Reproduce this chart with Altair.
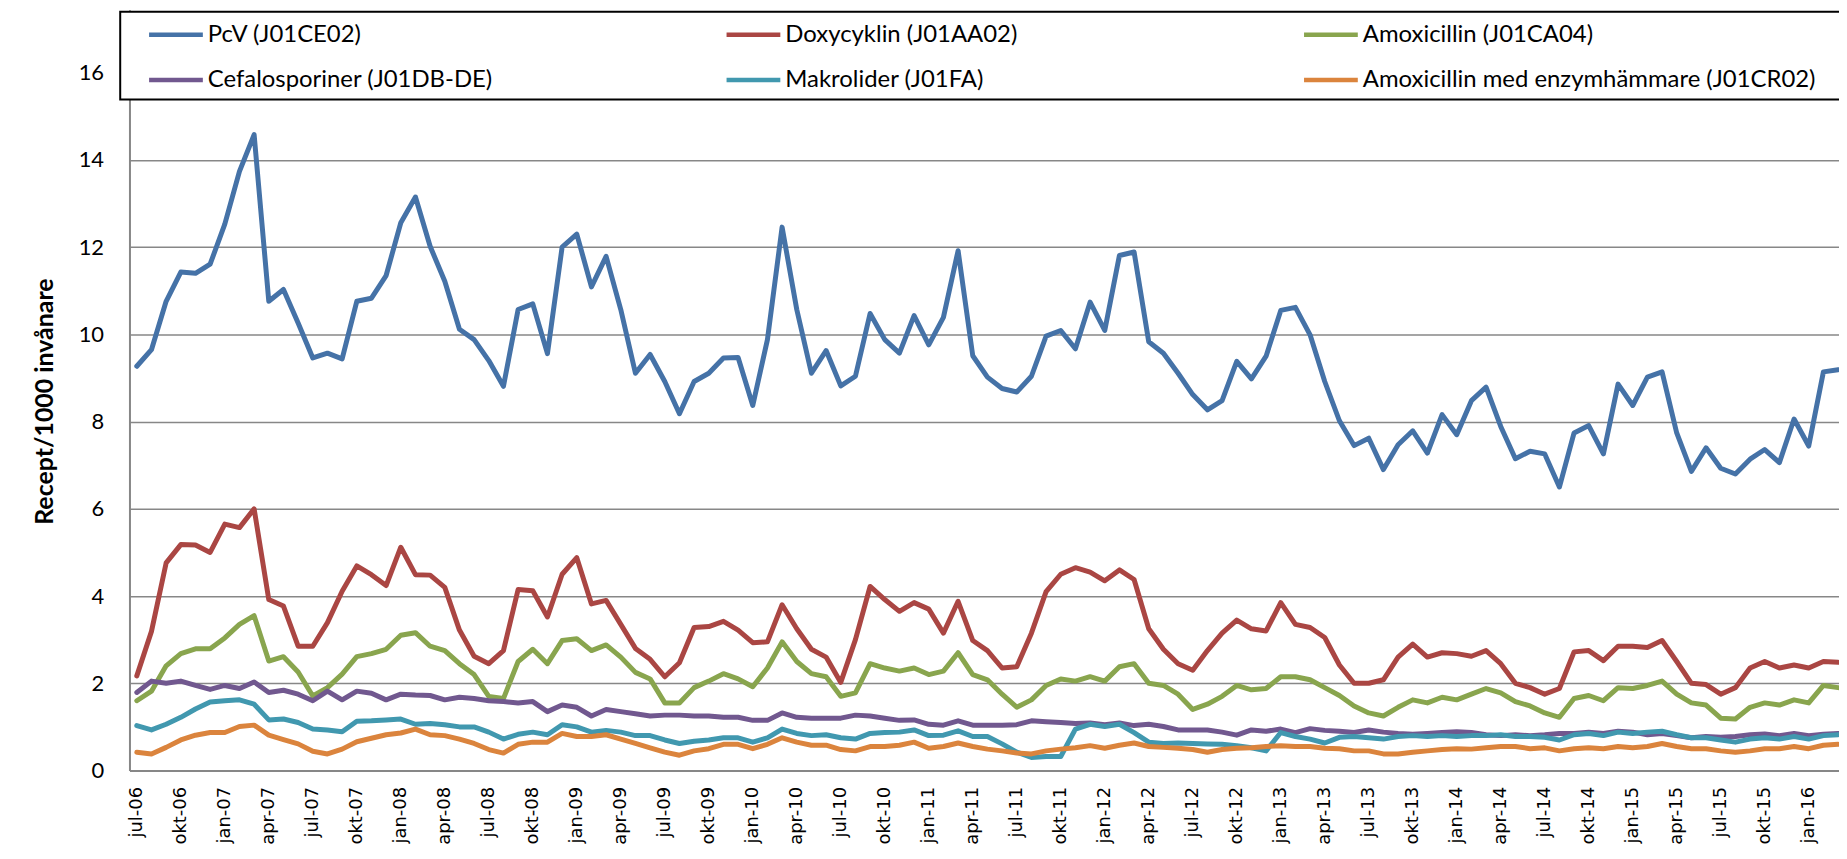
import altair as alt
import pandas as pd

series_names = ["PcV (J01CE02)", "Doxycyklin (J01AA02)", "Amoxicillin (J01CA04)",
                "Cefalosporiner (J01DB-DE)", "Makrolider (J01FA)",
                "Amoxicillin med enzymhämmare (J01CR02)"]
series_colors = ["#4572A7", "#AA4643", "#89A54E", "#71588F", "#4198AF", "#DB843D"]

tick_labels = ["jul-06", "okt-06", "jan-07", "apr-07", "jul-07", "okt-07", "jan-08", "apr-08",
               "jul-08", "okt-08", "jan-09", "apr-09", "jul-09", "okt-09", "jan-10", "apr-10",
               "jul-10", "okt-10", "jan-11", "apr-11", "jul-11", "okt-11", "jan-12", "apr-12",
               "jul-12", "okt-12", "jan-13", "apr-13", "jul-13", "okt-13", "jan-14", "apr-14",
               "jul-14", "okt-14", "jan-15", "apr-15", "jul-15", "okt-15", "jan-16"]

pcv = [9.27, 9.65, 10.76, 11.43, 11.40, 11.61, 12.53, 13.74, 14.58, 10.76,
       11.03, 10.26, 9.46, 9.57, 9.44, 10.76, 10.83, 11.35, 12.56, 13.15,
       12.02, 11.22, 10.12, 9.88, 9.40, 8.81, 10.57, 10.70, 9.56, 12.00,
       12.30, 11.09, 11.79, 10.57, 9.11, 9.54, 8.92, 8.18, 8.92, 9.11,
       9.46, 9.47, 8.37, 9.88, 12.46, 10.57, 9.11, 9.63, 8.82, 9.04,
       10.48, 9.88, 9.57, 10.43, 9.76, 10.39, 11.92, 9.51, 9.02, 8.76,
       8.68, 9.04, 9.96, 10.09, 9.67, 10.74, 10.09, 11.81, 11.89, 9.83,
       9.57, 9.11, 8.62, 8.27, 8.48, 9.38, 8.98, 9.50, 10.55, 10.62,
       9.99, 8.92, 8.02, 7.45, 7.62, 6.90, 7.47, 7.79, 7.28, 8.16,
       7.70, 8.48, 8.79, 7.89, 7.15, 7.32, 7.26, 6.50, 7.74, 7.91,
       7.26, 8.86, 8.37, 9.02, 9.14, 7.74, 6.86, 7.40, 6.93, 6.80,
       7.14, 7.36, 7.06, 8.06, 7.44, 9.14, 9.19]

doxy = [2.17, 3.19, 4.76, 5.18, 5.17, 5.00, 5.65, 5.57, 6.00, 3.92,
        3.77, 2.85, 2.85, 3.39, 4.11, 4.69, 4.49, 4.24, 5.12, 4.49,
        4.48, 4.20, 3.22, 2.62, 2.45, 2.75, 4.15, 4.12, 3.52, 4.50,
        4.88, 3.82, 3.90, 3.35, 2.80, 2.55, 2.15, 2.47, 3.28, 3.30,
        3.42, 3.22, 2.93, 2.95, 3.80, 3.25, 2.78, 2.60, 2.02, 3.00,
        4.22, 3.92, 3.65, 3.85, 3.70, 3.15, 3.88, 2.98, 2.75, 2.35,
        2.38, 3.15, 4.10, 4.50, 4.65, 4.55, 4.35, 4.60, 4.38, 3.25,
        2.78, 2.45, 2.30, 2.75, 3.15, 3.45, 3.25, 3.20, 3.85, 3.35,
        3.28, 3.05, 2.42, 2.00, 2.00, 2.08, 2.60, 2.90, 2.60, 2.70,
        2.68, 2.62, 2.75, 2.45, 2.00, 1.90, 1.75, 1.88, 2.72, 2.75,
        2.52, 2.85, 2.85, 2.82, 2.98, 2.50, 2.00, 1.97, 1.75, 1.90,
        2.35, 2.50, 2.35, 2.42, 2.35, 2.50, 2.48]

amox = [1.60, 1.82, 2.40, 2.68, 2.79, 2.79, 3.04, 3.35, 3.55, 2.51,
        2.61, 2.26, 1.71, 1.90, 2.21, 2.61, 2.68, 2.78, 3.10, 3.16,
        2.85, 2.75, 2.45, 2.20, 1.70, 1.65, 2.50, 2.78, 2.45, 2.98,
        3.02, 2.75, 2.88, 2.60, 2.25, 2.10, 1.55, 1.55, 1.90, 2.05,
        2.22, 2.10, 1.92, 2.35, 2.95, 2.50, 2.22, 2.15, 1.70, 1.78,
        2.45, 2.35, 2.28, 2.35, 2.20, 2.28, 2.70, 2.20, 2.08, 1.75,
        1.45, 1.62, 1.95, 2.10, 2.05, 2.15, 2.05, 2.38, 2.45, 2.00,
        1.95, 1.75, 1.40, 1.52, 1.70, 1.95, 1.85, 1.88, 2.15, 2.15,
        2.08, 1.90, 1.72, 1.48, 1.32, 1.25, 1.45, 1.62, 1.55, 1.68,
        1.62, 1.75, 1.88, 1.78, 1.58, 1.48, 1.32, 1.22, 1.65, 1.72,
        1.60, 1.90, 1.88, 1.95, 2.05, 1.75, 1.55, 1.50, 1.20, 1.18,
        1.45, 1.55, 1.50, 1.62, 1.55, 1.95, 1.90]

cefa = [1.79, 2.05, 2.00, 2.05, 1.95, 1.86, 1.95, 1.88, 2.03, 1.79,
        1.84, 1.75, 1.60, 1.82, 1.62, 1.82, 1.77, 1.62, 1.75, 1.73,
        1.72, 1.62, 1.68, 1.65, 1.60, 1.58, 1.55, 1.58, 1.35, 1.50,
        1.45, 1.25, 1.40, 1.35, 1.30, 1.25, 1.27, 1.27, 1.25, 1.25,
        1.22, 1.22, 1.15, 1.15, 1.32, 1.22, 1.20, 1.20, 1.20, 1.27,
        1.25, 1.20, 1.15, 1.16, 1.06, 1.04, 1.14, 1.04, 1.04, 1.04,
        1.05, 1.14, 1.12, 1.10, 1.08, 1.09, 1.05, 1.09, 1.03, 1.06,
        1.01, 0.93, 0.93, 0.93, 0.88, 0.81, 0.93, 0.90, 0.95, 0.87,
        0.96, 0.92, 0.90, 0.87, 0.93, 0.88, 0.85, 0.83, 0.85, 0.87,
        0.89, 0.87, 0.82, 0.80, 0.82, 0.80, 0.82, 0.85, 0.85, 0.88,
        0.85, 0.90, 0.88, 0.82, 0.85, 0.80, 0.75, 0.78, 0.76, 0.78,
        0.82, 0.84, 0.80, 0.85, 0.80, 0.83, 0.85]

makro = [1.03, 0.93, 1.06, 1.22, 1.41, 1.57, 1.60, 1.62, 1.52, 1.16,
         1.18, 1.10, 0.95, 0.93, 0.89, 1.13, 1.14, 1.16, 1.18, 1.06,
         1.08, 1.05, 1.00, 1.00, 0.88, 0.72, 0.83, 0.88, 0.82, 1.05,
         1.00, 0.88, 0.92, 0.88, 0.80, 0.80, 0.70, 0.62, 0.67, 0.70,
         0.75, 0.75, 0.65, 0.75, 0.95, 0.85, 0.80, 0.82, 0.75, 0.72,
         0.85, 0.87, 0.88, 0.93, 0.80, 0.81, 0.91, 0.78, 0.78, 0.61,
         0.42, 0.30, 0.32, 0.32, 0.95, 1.06, 1.01, 1.06, 0.87, 0.65,
         0.62, 0.63, 0.62, 0.61, 0.60, 0.57, 0.52, 0.45, 0.87, 0.78,
         0.72, 0.63, 0.76, 0.78, 0.75, 0.72, 0.78, 0.80, 0.78, 0.80,
         0.78, 0.80, 0.80, 0.82, 0.78, 0.78, 0.76, 0.70, 0.82, 0.85,
         0.80, 0.88, 0.85, 0.88, 0.90, 0.82, 0.75, 0.75, 0.70, 0.65,
         0.72, 0.75, 0.72, 0.78, 0.72, 0.80, 0.82]

amoxenz = [0.42, 0.38, 0.53, 0.70, 0.81, 0.87, 0.87, 1.01, 1.04, 0.81,
           0.71, 0.61, 0.44, 0.38, 0.49, 0.66, 0.74, 0.82, 0.86, 0.95,
           0.82, 0.80, 0.72, 0.62, 0.48, 0.40, 0.60, 0.65, 0.65, 0.85,
           0.78, 0.78, 0.82, 0.72, 0.62, 0.52, 0.42, 0.35, 0.45, 0.50,
           0.60, 0.60, 0.50, 0.60, 0.75, 0.65, 0.58, 0.58, 0.48, 0.45,
           0.55, 0.55, 0.58, 0.65, 0.51, 0.55, 0.63, 0.55, 0.49, 0.45,
           0.40, 0.38, 0.45, 0.49, 0.52, 0.57, 0.51, 0.58, 0.63, 0.55,
           0.53, 0.51, 0.48, 0.42, 0.48, 0.51, 0.52, 0.55, 0.57, 0.55,
           0.55, 0.51, 0.50, 0.45, 0.45, 0.38, 0.38, 0.42, 0.45, 0.48,
           0.50, 0.49, 0.52, 0.55, 0.55, 0.50, 0.52, 0.45, 0.50, 0.52,
           0.50, 0.55, 0.52, 0.55, 0.62, 0.55, 0.50, 0.50, 0.45, 0.42,
           0.45, 0.50, 0.50, 0.55, 0.50, 0.58, 0.60]

all_series = [pcv, doxy, amox, cefa, makro, amoxenz]

rows = []
for name, vals in zip(series_names, all_series):
    for i, v in enumerate(vals):
        rows.append({"idx": i, "series": name, "value": v})
df = pd.DataFrame(rows)

# legend is a 2 x 3 grid filled column by column: order entries so it reads row by row
legend_order = [0, 3, 1, 4, 2, 5]
legend_domain = [series_names[k] for k in legend_order]
legend_range = [series_colors[k] for k in legend_order]

label_expr = "[" + ",".join("'" + t + "'" for t in tick_labels) + "][round(datum.value / 3)]"

PLOT_W = 1717
PLOT_H = 764
PX_PER_MONTH = 14.73
PX_PER_UNIT = 43.8
x_max = -0.5 + PLOT_W / PX_PER_MONTH
y_max = PLOT_H / PX_PER_UNIT

GRID = "#878787"
FONT = "Lato"

chart = alt.Chart(df).mark_line(
    strokeWidth=5, strokeJoin="round", strokeCap="round", clip=True
).encode(
    x=alt.X("idx:Q",
            scale=alt.Scale(domain=[-0.5, x_max], nice=False, zero=False),
            axis=alt.Axis(values=list(range(0, 115, 3)), labelExpr=label_expr,
                          labelAngle=270, labelAlign="right", labelBaseline="middle",
                          labelPadding=16, labelFont="DejaVu Sans", labelFontSize=18,
                          labelColor="black", labelOverlap=False, labelBound=False,
                          title=None, grid=False, ticks=False,
                          domainColor=GRID, domainWidth=2)),
    y=alt.Y("value:Q",
            scale=alt.Scale(domain=[0, y_max], nice=False, zero=True),
            axis=alt.Axis(values=list(range(0, 17, 2)), title="Recept/1000 invånare",
                          titleFont=FONT, titleFontSize=25, titleFontWeight="bold",
                          titleColor="black", titleAngle=270, titleX=-85, titleY=393,
                          titleAlign="center", titleBaseline="middle",
                          labelFont=FONT, labelFontSize=22, labelColor="black",
                          labelPadding=26, labelOverlap=False, ticks=False,
                          grid=True, gridColor=GRID, gridWidth=1.5,
                          domainColor=GRID, domainWidth=2)),
    color=alt.Color("series:N",
                    scale=alt.Scale(domain=legend_domain, range=legend_range),
                    legend=alt.Legend(orient="none", legendX=-9.3, legendY=2,
                                      title="\u00a0", titleOrient="right", titlePadding=70,
                                      titleFontSize=10,
                                      columns=3, gridAlign="all", symbolType="M-2,0H2",
                                      symbolSize=729, symbolStrokeWidth=4.5,
                                      labelFont=FONT, labelFontSize=24, labelColor="black",
                                      labelOffset=16, symbolOffset=33, padding=7,
                                      rowPadding=17.5, columnPadding=43, labelLimit=900,
                                      strokeColor="black", fillColor="white")),
).properties(
    width=PLOT_W, height=PLOT_H,
    autosize=alt.AutoSizeParams(type="none"),
    padding={"left": 122, "top": 0, "right": 0, "bottom": 74},
).configure_view(stroke=None).configure_legend(strokeWidth=2)

chart.save("out.html", embed_options={"renderer": "svg", "actions": False})
